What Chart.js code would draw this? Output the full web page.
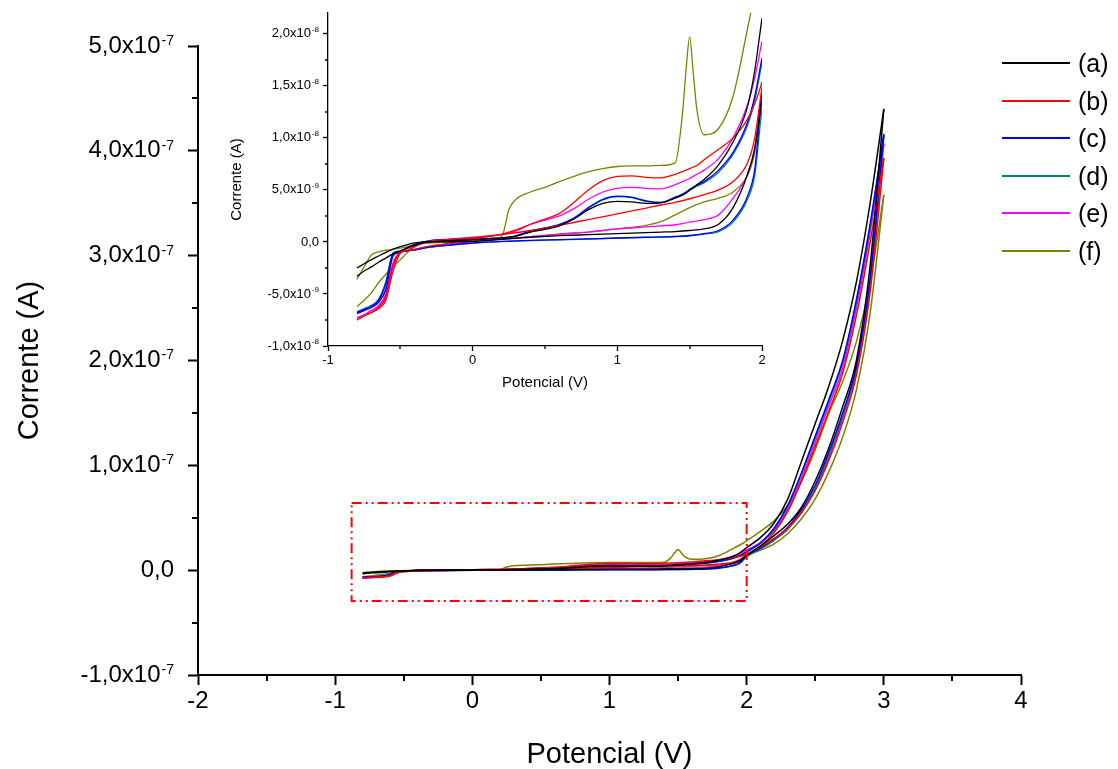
<!DOCTYPE html>
<html>
<head>
<meta charset="utf-8">
<script src="https://cdn.jsdelivr.net/npm/chart.js@4.4.1/dist/chart.umd.min.js"></script>
<style>
  html, body { margin: 0; padding: 0; background: #fff; }
  #wrap { position: relative; width: 1118px; height: 769px; font-family: "Liberation Sans", Arial, sans-serif; }
  #mainChart { position: absolute; left: 0; top: 0; }
  #insetChart { position: absolute; left: 220px; top: 0; }
  #legend { position: absolute; left: 1002px; top: 0; width: 116px; }
  .item { position: absolute; left: 0; width: 116px; height: 30px; }
  .swatch { position: absolute; left: 0; top: 14px; width: 68px; height: 2px; }
  .item span { position: absolute; left: 76px; top: 0; font-size: 25px; line-height: 30px; color: #000; }
</style>
</head>
<body>
<div id="wrap">
  <canvas id="mainChart" width="1118" height="769"></canvas>
  <canvas id="insetChart" width="560" height="400"></canvas>
  <div id="legend"></div>
</div>
<script>
// potential grids (V): forward scan -0.8 -> 3.0, reverse scan 3.0 -> -0.8
const potForward = [
  -0.8, -0.75, -0.7, -0.65, -0.6, -0.55, -0.5, -0.45, -0.4,
  -0.3, -0.2, -0.1, 0, 0.1, 0.2, 0.25, 0.3,
  0.4, 0.5, 0.6, 0.7, 0.8, 0.9, 1.0,
  1.1, 1.2, 1.3, 1.4, 1.45, 1.475, 1.5, 1.525, 1.55, 1.6,
  1.7, 1.8, 1.9, 1.95, 2.0,
  2.1, 2.2, 2.3, 2.4, 2.5, 2.6, 2.7, 2.8, 2.9, 3.0
];
const potReverse = [
  3.0, 2.9, 2.8, 2.7, 2.6, 2.5, 2.4, 2.3, 2.2, 2.1,
  2.0, 1.95, 1.9, 1.8, 1.7, 1.6, 1.5, 1.4, 1.3, 1.2,
  1.0, 0.8, 0.6, 0.4, 0.2, 0,
  -0.2, -0.3, -0.4, -0.45, -0.5, -0.55, -0.6, -0.65, -0.7, -0.75, -0.8
];

// currents in nA, same order as the grids above
const curA_fwd = [
  -3.3, -2.8, -2.4, -1.95, -1.55, -1.15, -0.85, -0.55, -0.3,
  0.0, 0.1, 0.15, 0.2, 0.3, 0.4, 0.48, 0.55,
  0.95, 1.2, 1.55, 2.2, 3.1, 3.7, 3.9,
  3.85, 3.7, 3.75, 4.2, 4.5, 4.7, 5.0, 5.25, 5.5, 6.0,
  7.4, 9.6, 13.0, 16.5, 21.5,
  31, 45, 68, 104, 140, 176, 219, 275, 350, 440
];
const curA_rev = [
  440, 290, 200, 156, 117, 85, 60, 44, 33, 23,
  13.8, 9.0, 6.5, 3.3, 1.7, 1.25, 1.1, 1.0, 0.95, 0.9,
  0.8, 0.7, 0.6, 0.45, 0.25, 0.05,
  0.0, 0.0, -0.1, -0.25, -0.45, -0.7, -1.0, -1.35, -1.7, -2.1, -2.5
];
const curB_fwd = [
  -7.5, -7.1, -6.8, -6.4, -5.6, -2.8, -1.1, -0.8, -0.45,
  0.05, 0.2, 0.3, 0.4, 0.55, 0.75, 0.95, 1.15,
  1.7, 2.2, 2.75, 3.8, 5.0, 5.9, 6.3,
  6.35, 6.2, 6.15, 6.5, 6.75, 6.9, 7.05, 7.2, 7.35, 7.9,
  8.9, 10.0, 11.8, 13.3, 15.4,
  23, 36, 56, 85, 118, 152, 188, 243, 313, 393
];
const curB_rev = [
  393, 265, 186, 141, 105, 76, 55, 40, 30, 22,
  14.8, 10.0, 7.6, 5.8, 5.0, 4.55, 4.15, 3.8, 3.55, 3.25,
  2.7, 2.15, 1.6, 1.1, 0.7, 0.3,
  -0.2, -0.4, -0.7, -0.85, -1.0, -2.2, -5.2, -6.3, -6.8, -7.1, -7.5
];
const curC_fwd = [
  -6.8, -6.5, -6.2, -5.6, -4.0, -1.1, -0.9, -0.6, -0.25,
  0.1, 0.2, 0.25, 0.3, 0.33, 0.35, 0.4, 0.6,
  1.05, 1.35, 1.7, 2.3, 3.3, 4.1, 4.4,
  4.3, 3.95, 3.8, 4.3, 4.6, 4.8, 5.05, 5.25, 5.45, 5.8,
  6.9, 8.6, 11.5, 14.0, 17.7,
  26, 40, 62, 93, 128, 163, 200, 258, 330, 416
];
const curC_rev = [
  416, 278, 195, 150, 113, 81, 58, 41, 30, 21,
  14.1, 7.0, 4.4, 2.1, 1.1, 0.8, 0.62, 0.53, 0.48, 0.45,
  0.38, 0.3, 0.22, 0.15, 0.05, -0.1,
  -0.35, -0.5, -0.75, -0.85, -0.95, -1.3, -4.6, -5.8, -6.3, -6.6, -6.9
];
const curD_fwd = [
  -6.7, -6.4, -6.1, -5.5, -3.8, -1.05, -0.88, -0.58, -0.22,
  0.1, 0.2, 0.24, 0.28, 0.31, 0.33, 0.38, 0.55,
  1.0, 1.3, 1.65, 2.25, 3.25, 4.05, 4.35,
  4.25, 3.9, 3.78, 4.25, 4.55, 4.72, 4.95, 5.15, 5.35, 5.7,
  6.7, 8.4, 11.2, 13.6, 17.3,
  25.5, 39, 61, 92, 126, 161, 198, 255, 327, 414
];
const curD_rev = [
  414, 275, 192, 147, 110, 78, 56, 39, 28.5, 20,
  12.8, 6.4, 4.1, 1.9, 1.0, 0.75, 0.58, 0.5, 0.46, 0.43,
  0.36, 0.28, 0.2, 0.13, 0.03, -0.12,
  -0.37, -0.52, -0.77, -0.87, -0.97, -1.35, -4.5, -5.7, -6.2, -6.5, -6.8
];
const curE_fwd = [
  -7.3, -7.0, -6.6, -6.2, -5.4, -2.4, -1.0, -0.8, -0.4,
  0.1, 0.25, 0.35, 0.45, 0.55, 0.7, 0.85, 1.05,
  1.7, 2.1, 2.5, 3.2, 4.1, 4.8, 5.15,
  5.25, 5.15, 5.1, 5.5, 5.8, 5.95, 6.1, 6.3, 6.5, 6.9,
  8.0, 10.0, 13.2, 15.8, 19.3,
  26, 38, 58, 88, 122, 157, 193, 250, 322, 407
];
const curE_rev = [
  407, 272, 190, 145, 108, 77, 55, 40, 29, 21,
  14.4, 9.0, 6.5, 4.2, 2.6, 2.15, 1.9, 1.65, 1.55, 1.45,
  1.25, 0.95, 0.75, 0.5, 0.25, 0.0,
  -0.25, -0.45, -0.75, -0.85, -1.0, -2.0, -5.0, -6.1, -6.6, -7.0, -7.3
];
const curF_fwd = [
  -6.2, -5.6, -4.9, -3.9, -3.1, -2.4, -1.7, -1.0, -0.35,
  0.05, 0.1, 0.15, 0.2, 0.3, 0.5, 3.1, 4.1,
  4.8, 5.25, 5.8, 6.3, 6.75, 7.05, 7.25,
  7.3, 7.3, 7.35, 7.6, 12.3, 16.5, 19.7, 16.2, 12.7, 10.3,
  10.9, 14.0, 20.5, 24, 28,
  37, 47, 62, 85, 115, 150, 180, 218, 275, 358
];
const curF_rev = [
  358, 245, 172, 127, 94, 68, 49, 35, 25, 19,
  14.1, 8.6, 6.4, 4.8, 4.2, 3.85, 3.3, 2.6, 1.95, 1.6,
  1.25, 0.95, 0.75, 0.5, 0.3, 0.1,
  -0.05, -0.1, -0.25, -0.45, -0.6, -0.7, -0.8, -0.95, -1.25, -2.4, -3.6
];

const curveLabels = ["(a)", "(b)", "(c)", "(d)", "(e)", "(f)"];
const curveColors = ["#000000", "#ff0000", "#0000ff", "#008080", "#ff00ff", "#808000"];

// red dash-dot box marking the zoomed region (V, A)
const zoomBoxX = [-0.88, 2.0, 2.0, -0.88, -0.88];
const zoomBoxY = [6.4e-8, 6.4e-8, -2.95e-8, -2.95e-8, 6.4e-8];

const mainXTicks = [-2, -1, 0, 1, 2, 3, 4];
const mainXMinor = [-1.5, -0.5, 0.5, 1.5, 2.5, 3.5];
const mainYTicks = [-1e-7, 0, 1e-7, 2e-7, 3e-7, 4e-7, 5e-7];
const mainYMinor = [-0.5e-7, 0.5e-7, 1.5e-7, 2.5e-7, 3.5e-7, 4.5e-7];
const mainYLabels = [
  ["-1,0x10", "-7"], ["0,0", ""], ["1,0x10", "-7"], ["2,0x10", "-7"],
  ["3,0x10", "-7"], ["4,0x10", "-7"], ["5,0x10", "-7"]
];

const insetXTicks = [-1, 0, 1, 2];
const insetXMinor = [-0.5, 0.5, 1.5];
const insetYTicks = [-1e-8, -5e-9, 0, 5e-9, 1e-8, 1.5e-8, 2e-8];
const insetYMinor = [-7.5e-9, -2.5e-9, 2.5e-9, 7.5e-9, 1.25e-8, 1.75e-8];
const insetYLabels = [
  ["-1,0x10", "-8"], ["-5,0x10", "-9"], ["0,0", ""], ["5,0x10", "-9"],
  ["1,0x10", "-8"], ["1,5x10", "-8"], ["2,0x10", "-8"]
];

const FONT = '"Liberation Sans", Arial, sans-serif';
Chart.defaults.font.family = FONT;
Chart.defaults.color = "#000";

const curveFwd = [curA_fwd, curB_fwd, curC_fwd, curD_fwd, curE_fwd, curF_fwd];
const curveRev = [curA_rev, curB_rev, curC_rev, curD_rev, curE_rev, curF_rev];

function curveDatasets(width) {
  const sets = [];
  curveLabels.forEach((label, i) => {
    const common = {
      borderColor: curveColors[i],
      borderWidth: width,
      pointRadius: 0,
      fill: false,
      cubicInterpolationMode: "monotone"
    };
    sets.push({
      ...common,
      label: label,
      data: potForward.map((p, k) => ({ x: p, y: curveFwd[i][k] * 1e-9 }))
    });
    sets.push({
      ...common,
      label: label + " rev",
      data: potReverse.map((p, k) => ({ x: p, y: curveRev[i][k] * 1e-9 }))
    });
  });
  return sets;
}

// minor ticks and superscript y labels
const axisDecor = {
  id: "axisDecor",
  afterDraw(chart, args, opts) {
    const { ctx } = chart;
    const x = chart.scales.x;
    const y = chart.scales.y;

    ctx.save();
    ctx.strokeStyle = "#000";
    ctx.lineWidth = opts.tickWidth;
    ctx.beginPath();
    opts.minorX.forEach((v) => {
      const px = Math.round(x.getPixelForValue(v));
      ctx.moveTo(px, x.top);
      ctx.lineTo(px, x.top + opts.minorLen);
    });
    opts.minorY.forEach((v) => {
      const py = Math.round(y.getPixelForValue(v));
      ctx.moveTo(y.right, py);
      ctx.lineTo(y.right - opts.minorLen, py);
    });
    ctx.stroke();

    ctx.fillStyle = "#000";
    ctx.textBaseline = "middle";
    ctx.textAlign = "right";
    const endX = y.right - opts.labelGap;
    opts.yTicks.forEach((v, i) => {
      const [mant, exp] = opts.yLabels[i];
      const py = y.getPixelForValue(v);
      let ew = 0;
      if (exp) {
        ctx.font = `${opts.expSize}px ${FONT}`;
        ew = ctx.measureText(exp).width + 1;
        ctx.fillText(exp, endX, py - opts.expRaise);
      }
      ctx.font = `${opts.labelSize}px ${FONT}`;
      ctx.fillText(mant, endX - ew, py);
    });
    ctx.restore();
  }
};

function axisOptions(cfg) {
  return {
    x: {
      type: "linear",
      min: cfg.xMin,
      max: cfg.xMax,
      afterBuildTicks: (s) => { s.ticks = cfg.xTicks.map((v) => ({ value: v })); },
      afterFit: (s) => { s.height = cfg.xHeight; },
      ticks: { font: { size: cfg.tickSize }, color: "#000", padding: cfg.xLabelPad, maxRotation: 0 },
      grid: { drawOnChartArea: false, tickLength: cfg.tickLen, tickWidth: cfg.axisWidth, tickColor: "#000" },
      border: { color: "#000", width: cfg.axisWidth },
      title: {
        display: true,
        text: "Potencial (V)",
        font: { size: cfg.titleSize, lineHeight: 1 },
        color: "#000",
        padding: { top: 0, bottom: cfg.xTitlePad }
      }
    },
    y: {
      type: "linear",
      min: cfg.yMin,
      max: cfg.yMax,
      afterBuildTicks: (s) => { s.ticks = cfg.yTicks.map((v) => ({ value: v })); },
      afterFit: (s) => { s.width = cfg.yWidth; },
      ticks: { callback: () => "" },
      grid: { drawOnChartArea: false, tickLength: cfg.tickLen, tickWidth: cfg.axisWidth, tickColor: "#000" },
      border: { color: "#000", width: cfg.axisWidth },
      title: {
        display: true,
        text: "Corrente (A)",
        font: { size: cfg.titleSize, lineHeight: 1 },
        color: "#000",
        padding: { top: cfg.yTitlePad, bottom: 0 }
      }
    }
  };
}

const mainDatasets = [
  {
    label: "zoom",
    data: zoomBoxX.map((v, i) => ({ x: v, y: zoomBoxY[i] })),
    borderColor: "#ff0000",
    borderWidth: 2,
    borderDash: [10, 4, 2, 4, 2, 4],
    pointRadius: 0,
    tension: 0,
    fill: false
  },
  ...curveDatasets(1.5)
];

new Chart(document.getElementById("mainChart"), {
  type: "line",
  data: { datasets: mainDatasets },
  options: {
    responsive: false,
    animation: false,
    devicePixelRatio: 1,
    layout: { padding: { left: 0, top: 46, right: 97, bottom: 0 } },
    plugins: {
      legend: { display: false },
      tooltip: { enabled: false },
      axisDecor: {
        minorX: mainXMinor, minorY: mainYMinor, minorLen: 6, tickWidth: 2,
        yTicks: mainYTicks, yLabels: mainYLabels,
        labelGap: 24, labelSize: 24, expSize: 14, expRaise: 5
      }
    },
    scales: axisOptions({
      xMin: -2, xMax: 4, yMin: -1e-7, yMax: 5e-7,
      xTicks: mainXTicks, yTicks: mainYTicks,
      xHeight: 94, yWidth: 198,
      tickSize: 24, titleSize: 29, tickLen: 10, axisWidth: 2,
      xLabelPad: 2, xTitlePad: 0, yTitlePad: 15
    })
  },
  plugins: [axisDecor]
});

new Chart(document.getElementById("insetChart"), {
  type: "line",
  data: { datasets: curveDatasets(1.3) },
  options: {
    responsive: false,
    animation: false,
    devicePixelRatio: 1,
    layout: { padding: { left: 0, top: 13, right: 18, bottom: 0 } },
    plugins: {
      legend: { display: false },
      tooltip: { enabled: false },
      axisDecor: {
        minorX: insetXMinor, minorY: insetYMinor, minorLen: 3, tickWidth: 1.3,
        yTicks: insetYTicks, yLabels: insetYLabels,
        labelGap: 9, labelSize: 13, expSize: 8, expRaise: 4
      }
    },
    scales: axisOptions({
      xMin: -1, xMax: 2, yMin: -1e-8, yMax: 2.2e-8,
      xTicks: insetXTicks, yTicks: insetYTicks,
      xHeight: 54, yWidth: 108,
      tickSize: 13, titleSize: 15, tickLen: 5, axisWidth: 1.3,
      xLabelPad: 2, xTitlePad: 10, yTitlePad: 9
    })
  },
  plugins: [axisDecor]
});

// legend
const legend = document.getElementById("legend");
curveLabels.forEach((label, i) => {
  const item = document.createElement("div");
  item.className = "item";
  item.style.top = Math.round(48 + i * 37.5) + "px";
  const sw = document.createElement("div");
  sw.className = "swatch";
  sw.style.background = curveColors[i];
  const txt = document.createElement("span");
  txt.textContent = label;
  item.appendChild(sw);
  item.appendChild(txt);
  legend.appendChild(item);
});
</script>
</body>
</html>
